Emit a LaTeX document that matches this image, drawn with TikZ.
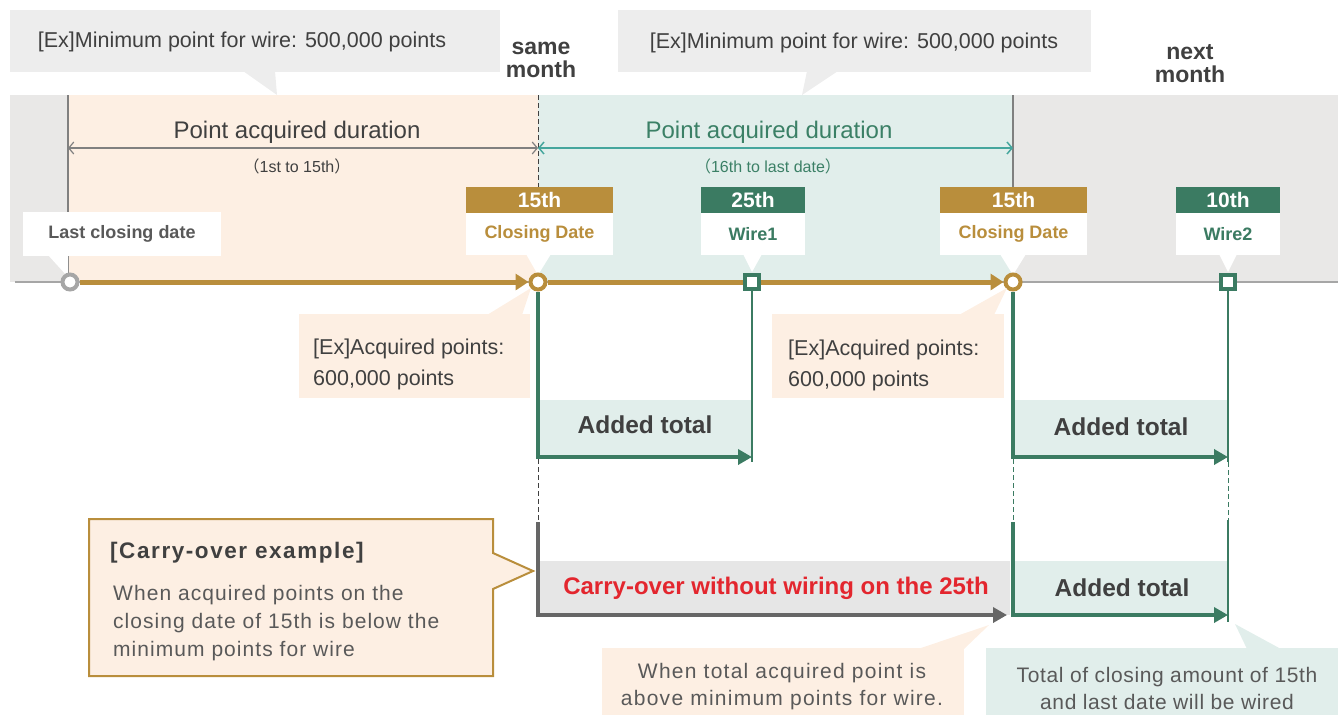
\documentclass[tikz,border=0pt]{standalone}
\usepackage{fontspec}
\setmainfont{Liberation Sans}
\newfontfamily\cjk{Noto Sans CJK JP}
\newfontfamily\spaced[LetterSpace=7]{Liberation Sans}
\newfontfamily\spacedB[LetterSpace=5]{Liberation Sans}
\newfontfamily\spacedC[LetterSpace=6]{Liberation Sans}
\newfontfamily\spacedD[LetterSpace=3]{Liberation Sans}
\usetikzlibrary{arrows.meta}
\definecolor{gold}{HTML}{B98E3C}
\definecolor{dgreen}{HTML}{3B7B62}
\definecolor{tealline}{HTML}{45A69D}
\definecolor{tealtext}{HTML}{3B8066}
\definecolor{lorange}{HTML}{FDEFE3}
\definecolor{lteal}{HTML}{E1EEEB}
\definecolor{bandgray}{HTML}{E9E8E7}
\definecolor{callgray}{HTML}{EDEDED}
\definecolor{tdark}{HTML}{404040}
\definecolor{tmid}{HTML}{595959}
\definecolor{cred}{HTML}{E3262E}
\definecolor{lgray}{HTML}{A6A6A6}
\definecolor{dgray}{HTML}{666666}
\definecolor{carrybox}{HTML}{E6E6E6}
\tikzset{
  fs/.style={font=\fontsize{#1}{#1}\selectfont},
  plain/.style={inner sep=0pt, text=tdark},
  tagtop/.style={rectangle, minimum height=26, inner sep=0pt, text=white, font=\bfseries\fontsize{21}{21}\selectfont},
  tagbot/.style={rectangle, fill=white, minimum height=42, inner sep=0pt, font=\bfseries\fontsize{18}{18}\selectfont},
  ringnode/.style={circle, draw=#1, line width=4, fill=white, minimum size=15, inner sep=0pt},
  sqnode/.style={rectangle, draw=dgreen, line width=4.5, fill=white, minimum size=14, inner sep=0pt},
  addtext/.style={inner sep=0pt, text=tdark, font=\bfseries\fontsize{24.5}{24.5}\selectfont},
  thickarrow/.style={line width=4.5, -{Triangle[length=14,width=15]}},
  dur/.style={line width=1.2, {Straight Barb[length=5,width=12]}-{Straight Barb[length=5,width=12]}},
  dashline/.style={line width=1, dash pattern=on 5pt off 3pt},
}
\begin{document}
\begin{tikzpicture}[x=1pt,y=-1pt]
\useasboundingbox (0,0) rectangle (1338,715);

% ---- band ----
\fill[bandgray] (10,95) rectangle (68,282);
\fill[lorange] (68,95) rectangle (538,282);
\fill[lteal] (538,95) rectangle (1013,282);
\fill[bandgray] (1013,95) rectangle (1338,282);

% ---- top callouts ----
\fill[callgray] (10,10) rectangle (500,72);
\fill[callgray] (243,71) -- (275,71) -- (277,95) -- cycle;
\node[plain, fs=21.5] (min1) at (242,42) {[Ex]Minimum point for wire: 500,000 points};
\fill[callgray] (618,10) rectangle (1091,72);
\fill[callgray] (807,71) -- (838,71) -- (802,95) -- cycle;
\node[plain, fs=21.5] (min2) at (854,43) {[Ex]Minimum point for wire: 500,000 points};

% ---- month labels ----
\node[plain, align=center, font=\bfseries\fontsize{23}{23}\selectfont] (same) at (541,60) {same\\month};
\node[plain, align=center, font=\bfseries\fontsize{23}{23}\selectfont] (next) at (1190,64) {next\\month};

% ---- band separators ----
\coordinate (v0t) at (68,95);   \coordinate (v0b) at (68,282);
\coordinate (v1t) at (538,95);  \coordinate (v1b) at (538,282);
\coordinate (v2t) at (1013,95); \coordinate (v2b) at (1013,282);
\draw[color=gray, line width=1.2] (v0t) -- (v0b);
\draw[color=tdark, dashline] (v1t) -- (v1b);
\draw[color=gray, line width=1.2] (v2t) -- (v2b);

% ---- duration arrows ----
\coordinate (d0) at (68,148);
\coordinate (d1) at (538,148);
\coordinate (d2) at (1013,148);
\draw[dur, color=gray] (d0) -- (d1);
\draw[dur, color=tealline, line width=1.5] (d1) -- (d2);
\node[plain, fs=24] (pad1) at (297,132) {Point acquired duration};
\node[plain, fs=16] (r1) at (297,166) {{\cjk （}1st to 15th{\cjk ）}};
\node[plain, fs=24, text=tealtext] (pad2) at (769,132) {Point acquired duration};
\node[plain, fs=16, text=tealtext] (r2) at (768,166) {{\cjk （}16th to last date{\cjk ）}};

% ---- base line ----
\coordinate (base0) at (15,282);
\coordinate (base1) at (1338,282);
\draw[color=lgray, line width=2] (base0) -- (base1);

% ---- tags ----
\node[tagbot, minimum width=198, minimum height=44, text=tmid] (lcd) at (122,234) {Last closing date};
\fill[white] (48,255) -- (68,277) -- (68,255) -- cycle;

\node[tagtop, fill=gold, minimum width=147] (t1) at (539.5,200) {15th};
\node[tagbot, minimum width=147, text=gold] (l1) at (539.5,234) {Closing Date};
\fill[white] (526,254) -- (538,275) -- (551,254) -- cycle;

\node[tagtop, fill=dgreen, minimum width=104] (t2) at (753,200) {25th};
\node[tagbot, minimum width=104, text=dgreen] (l2) at (753,234) {Wire1};
\fill[white] (743,254) -- (752,272) -- (762,254) -- cycle;

\node[tagtop, fill=gold, minimum width=147] (t3) at (1013.5,200) {15th};
\node[tagbot, minimum width=147, text=gold] (l3) at (1013.5,234) {Closing Date};
\fill[white] (1000,254) -- (1013,275) -- (1026,254) -- cycle;

\node[tagtop, fill=dgreen, minimum width=104] (t4) at (1228,200) {10th};
\node[tagbot, minimum width=104, text=dgreen] (l4) at (1228,234) {Wire2};
\fill[white] (1219,254) -- (1228,272) -- (1237,254) -- cycle;

% ---- timeline markers ----
\node[ringnode=lgray] (c0) at (70,282) {};
\node[ringnode=gold] (c1) at (538,282) {};
\node[ringnode=gold] (c2) at (1013,282) {};
\node[sqnode] (s1) at (752,282) {};
\node[sqnode] (s2) at (1228,282) {};

\draw[color=gold, line width=5, -{Triangle[length=13,width=16]}] (c0.east) -- (c1.west);
\draw[color=gold, line width=5] (c1.east) -- (s1.west);
\draw[color=gold, line width=5, -{Triangle[length=13,width=16]}] (s1.east) -- (c2.west);

% ---- acquired callouts ----
\fill[lorange] (299,314) rectangle (530,398);
\fill[lorange] (487,315) -- (531,288) -- (522,315) -- cycle;
\node[plain, anchor=west, align=left, font=\fontsize{21.5}{31}\selectfont] (acq1) at (313,364) {[Ex]Acquired points:\\600,000 points};
\fill[lorange] (772,314) rectangle (1004,398);
\fill[lorange] (959,315) -- (1007,288) -- (994,315) -- cycle;
\node[plain, anchor=west, align=left, font=\fontsize{21.5}{31}\selectfont] (acq2) at (788,365) {[Ex]Acquired points:\\600,000 points};

% ---- added totals, row 1 ----
\fill[lteal] (540,400) rectangle (752,457);
\node[addtext] (add1) at (645,425) {Added total};
\fill[lteal] (1015,400) rectangle (1228,457);
\node[addtext] (add2) at (1121,427) {Added total};
\coordinate (e1) at (752,457);
\coordinate (e2) at (1228,457);
\coordinate (w1b) at (752,462);
\coordinate (w2b) at (1228,462);
\draw[color=dgreen, thickarrow] (c1.south) |- (e1);
\draw[color=dgreen, thickarrow] (c2.south) |- (e2);
\draw[color=dgreen, line width=2] (s1.south) -- (w1b);
\draw[color=dgreen, line width=2] (s2.south) -- (w2b);

% ---- dashed guides ----
\coordinate (g1t) at (538,459); \coordinate (g1b) at (538,522);
\coordinate (g2t) at (1013,459); \coordinate (g2b) at (1013,522);
\coordinate (g3t) at (1228,462); \coordinate (g3b) at (1228,520);
\draw[color=tdark, dashline] (g1t) -- (g1b);
\draw[color=dgreen, dashline] (g2t) -- (g2b);
\draw[color=dgreen, dashline] (g3t) -- (g3b);

% ---- row 2 ----
\fill[carrybox] (540,561) rectangle (1010,615);
\node[inner sep=0pt, text=cred, font=\bfseries\fontsize{24}{24}\selectfont] (carry) at (776,588) {Carry-over without wiring on the 25th};
\fill[lteal] (1015,561) rectangle (1228,615);
\node[addtext] (add3) at (1122,588) {Added total};
\coordinate (k1t) at (538,522);
\coordinate (k1e) at (1007,615);
\coordinate (k2t) at (1013,522);
\coordinate (k2e) at (1228,615);
\coordinate (k3t) at (1228,520);
\coordinate (k3b) at (1228,622);
\draw[color=dgray, thickarrow] (k1t) |- (k1e);
\draw[color=dgreen, thickarrow] (k2t) |- (k2e);
\draw[color=dgreen, line width=2] (k3t) -- (k3b);

% ---- carry-over example callout ----
\filldraw[fill=lorange, draw=gold, line width=2] (89,519) -- (493,519) -- (493,553) -- (533,571) -- (493,589) -- (493,676) -- (89,676) -- cycle;
\node[plain, anchor=west, font=\spaced\bfseries\fontsize{22.5}{22.5}\selectfont] (cex) at (110,553) {[Carry-over example]};
\node[plain, anchor=west, align=left, text=tmid, font=\spacedB\fontsize{21}{28}\selectfont] (cexb) at (113,623) {When acquired points on the\\closing date of 15th is below the\\minimum points for wire};

% ---- bottom callouts ----
\fill[lorange] (602,648) rectangle (964,715);
\fill[lorange] (918,649) -- (989,625) -- (964,649) -- cycle;
\node[plain, align=center, text=tmid, font=\spacedC\fontsize{21}{27}\selectfont] (above) at (782,687) {When total acquired point is\\above minimum points for wire.};
\fill[lteal] (986,648) rectangle (1338,715);
\fill[lteal] (1247,649) -- (1235,624) -- (1281,649) -- cycle;
\node[plain, align=center, text=tmid, font=\spacedD\fontsize{21}{27}\selectfont] (total) at (1167,688) {Total of closing amount of 15th\\and last date will be wired};
\end{tikzpicture}
\end{document}
